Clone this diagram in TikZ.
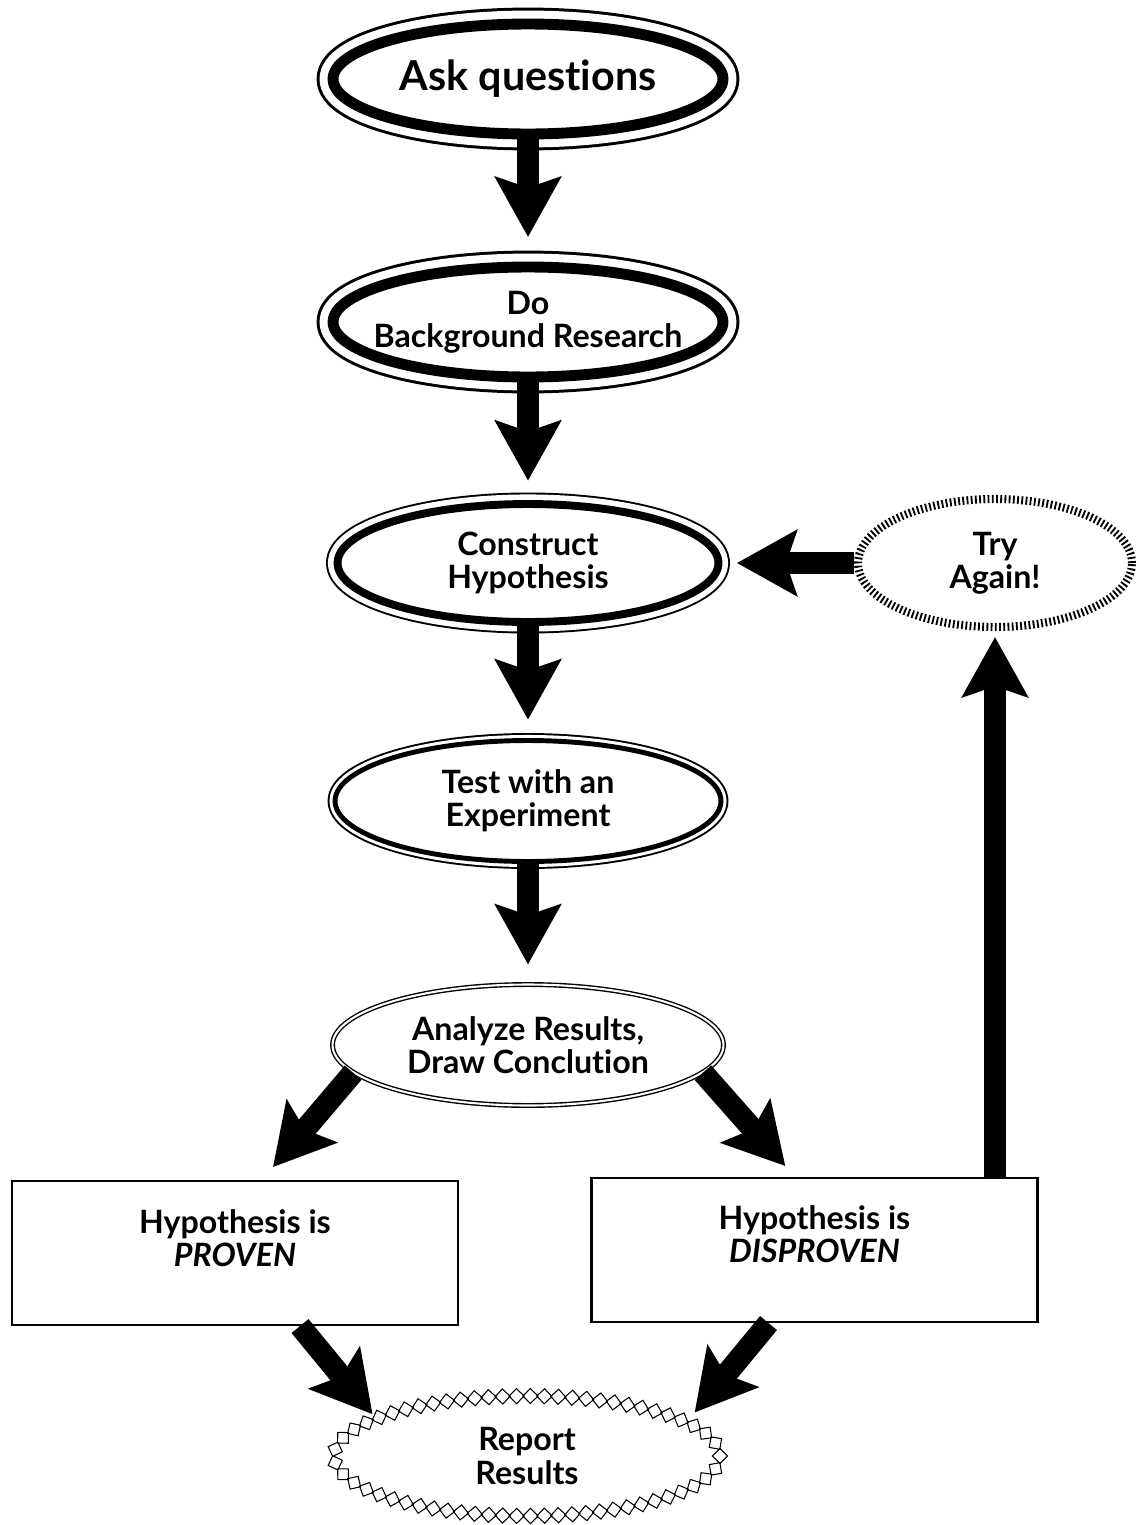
\documentclass[tikz,border=0pt]{standalone}
\usepackage{fontspec}
\setmainfont{Lato}[Ligatures=NoCommon]
\usetikzlibrary{arrows.meta,shapes.geometric,decorations.shapes,calc}

\begin{document}
\begin{tikzpicture}[x=0.02cm,y=-0.02cm,
    every node/.style={inner sep=0pt},
    lbl/.style={font=\bfseries\fontsize{18.3}{18.8}\selectfont,align=center},
    ring/.style n args={3}{ellipse,draw,fill=white,line width=#1,
      preaction={draw,line width=#2},preaction={draw=white,line width=#3}},
    bigring/.style={ring={6.2pt}{18.7pt}{15.3pt},minimum width=7.8cm,minimum height=2.2cm},
    midring/.style={ring={4.5pt}{13.1pt}{10.9pt},minimum width=7.62cm,minimum height=2.36cm},
    thinring/.style={ring={2.8pt}{8.5pt}{6.3pt},minimum width=7.72cm,minimum height=2.42cm},
    dblring/.style={ellipse,draw,double,double distance=1.2pt,line width=0.8pt,
      minimum width=7.82cm,minimum height=2.42cm},
    tickring/.style={ellipse,draw,line width=4.6pt,dash pattern=on 1.05pt off 1.35pt,
      minimum width=5.48cm,minimum height=2.56cm},
    chainring/.style={ellipse,fill=white,minimum width=7.72cm,minimum height=2.4cm,
      postaction={decorate,draw,line width=0.6pt,inner sep=0pt,
        decoration={shape backgrounds,shape=diamond,shape size=8.6pt,
          shape evenly spread=62}}},
    outcome/.style={draw,line width=1.2pt,minimum width=8.92cm,minimum height=2.88cm},
    fat/.style={line width=12.5pt,-{Stealth[length=34pt,width=37pt,inset=6pt]}}]

  \useasboundingbox (0,0) rectangle (1139,1525);

  \node[bigring] (ask) at (528,79) {};
  \node[lbl,font=\bfseries\fontsize{23.5}{26}\selectfont] (askT) at (ask) {Ask questions};
  \node[bigring] (bg) at (528,322) {};
  \node[lbl] (bgT) at (bg) {Do\\Background Research};
  \node[midring] (cons) at (528,563) {};
  \node[lbl] (consT) at (cons) {Construct\\Hypothesis};
  \node[thinring] (test) at (528,801) {};
  \node[lbl] (testT) at (test) {Test with an\\Experiment};
  \node[dblring] (ana) at (528,1045) {};
  \node[lbl] (anaT) at (ana) {Analyze Results,\\Draw Conclution};
  \node[tickring] (try) at (995,563) {};
  \node[lbl] (tryT) at (try) {Try\\Again!};
  \node[outcome] (proven) at (235,1253) {};
  \node[lbl] (provenT) at ($(proven)+(0,-15)$) {Hypothesis is\\\textit{PROVEN}};
  \node[outcome] (disproven) at (814.5,1250) {};
  \node[lbl] (disprovenT) at ($(disproven)+(0,-16)$) {Hypothesis is\\\textit{DISPROVEN}};
  \node[chainring] (report) at (527,1456) {};
  \node[lbl] (reportT) at (report) {Report\\Results};

  \path[fat]
    (ask) edge[shorten >=14pt] (bg)
    (bg) edge[shorten >=11pt] (cons)
    (cons) edge[shorten >=10.5pt] (test)
    (test) edge[shorten >=11pt] (ana)
    (try) edge[shorten >=8.2pt] (cons)
    (disproven.north -| try.south) edge[shorten >=3.4pt] (try.south);
  \draw[fat,shorten >=9.6pt] (ana.189) -- ($(proven.north)+(27,0)$);
  \draw[fat,shorten >=8.3pt] (ana.351) -- ($(disproven.north)+(-19.5,0)$);
  \draw[fat,shorten >=3pt] ($(proven.south)+(65,0)$) -- (report.166);
  \draw[fat,shorten >=7pt] ($(disproven.south)+(-46,0)$) -- (report.12);
\end{tikzpicture}
\end{document}
